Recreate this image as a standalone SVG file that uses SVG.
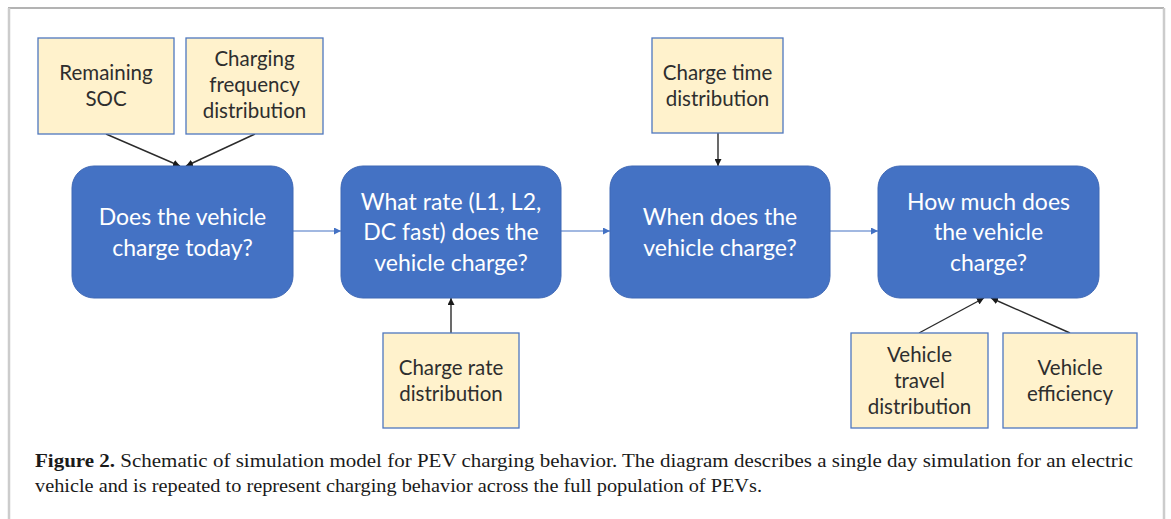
<svg xmlns="http://www.w3.org/2000/svg" width="1171" height="519" viewBox="0 0 1171 519">
  <defs>
    <style>
      .frame-top { stroke: #9a9a9a; stroke-width: 1.5; fill: none; }
      .frame-side { stroke: #cccccc; stroke-width: 2.5; fill: none; }
      .step rect { fill: #4472C4; stroke: #3f68b5; stroke-width: 1; }
      .step text { fill: #ffffff; font-family: Lato, "Open Sans", "Liberation Sans", sans-serif; font-size: 23px; text-anchor: middle; }
      .input rect { fill: #FFF2CC; stroke: #4f77bf; stroke-width: 1.3; }
      .input text { fill: #2e2e2e; font-family: Lato, "Open Sans", "Liberation Sans", sans-serif; font-size: 20.5px; text-anchor: middle; }
      .feed { stroke: #2b2b2b; stroke-width: 1.4; fill: none; marker-end: url(#head-dark); }
      .flow { stroke: #4472C4; stroke-width: 1.2; fill: none; marker-end: url(#head-blue); }
      .caption { font-family: "Liberation Serif", "Times New Roman", serif; font-size: 18.5px; fill: #1a1a1a; }
    </style>
    <marker id="head-dark" viewBox="0 0 10 10" refX="10" refY="5" markerWidth="7" markerHeight="7" markerUnits="userSpaceOnUse" orient="auto">
      <path d="M0,0 L10,5 L0,10 z" fill="#1a1a1a"/>
    </marker>
    <marker id="head-blue" viewBox="0 0 10 10" refX="10" refY="5" markerWidth="7" markerHeight="7" markerUnits="userSpaceOnUse" orient="auto">
      <path d="M0,0 L10,5 L0,10 z" fill="#4472C4"/>
    </marker>
  </defs>

  <rect width="1171" height="519" fill="#ffffff"/>

  <!-- page frame, open at the bottom -->
  <line class="frame-top" x1="8" y1="8" x2="1164" y2="8"/>
  <line class="frame-side" x1="9" y1="8" x2="9" y2="519"/>
  <line class="frame-side" x1="1164" y1="8" x2="1164" y2="519"/>

  <!-- connectors -->
  <g id="connectors">
    <line class="feed" x1="106" y1="134" x2="180" y2="166"/>
    <line class="feed" x1="255" y1="134" x2="186" y2="166"/>
    <line class="feed" x1="718" y1="133" x2="718" y2="166"/>
    <line class="feed" x1="451" y1="333" x2="451" y2="298"/>
    <line class="feed" x1="919" y1="333" x2="984" y2="298"/>
    <line class="feed" x1="1070" y1="333" x2="991" y2="298"/>
    <line class="flow" x1="293" y1="231" x2="341" y2="231"/>
    <line class="flow" x1="561" y1="231" x2="610" y2="231"/>
    <line class="flow" x1="830" y1="231" x2="878" y2="231"/>
  </g>

  <!-- process steps -->
  <g id="step-charge-today" class="step">
    <rect x="72" y="166" width="221" height="132" rx="22"/>
    <text x="182.5" y="225">Does the vehicle</text>
    <text x="182.5" y="256">charge today?</text>
  </g>
  <g id="step-rate" class="step">
    <rect x="341" y="166" width="220" height="132" rx="22"/>
    <text x="451" y="210">What rate (L1, L2,</text>
    <text x="451" y="240">DC fast) does the</text>
    <text x="451" y="271">vehicle charge?</text>
  </g>
  <g id="step-when" class="step">
    <rect x="610" y="166" width="220" height="132" rx="22"/>
    <text x="720" y="225">When does the</text>
    <text x="720" y="256">vehicle charge?</text>
  </g>
  <g id="step-how-much" class="step">
    <rect x="878" y="166" width="221" height="132" rx="22"/>
    <text x="988.5" y="210">How much does</text>
    <text x="988.5" y="240">the vehicle</text>
    <text x="988.5" y="271">charge?</text>
  </g>

  <!-- input distributions -->
  <g id="input-soc" class="input">
    <rect x="38" y="38" width="136" height="96"/>
    <text x="106" y="80">Remaining</text>
    <text x="106" y="106">SOC</text>
  </g>
  <g id="input-frequency" class="input">
    <rect x="186" y="38" width="137" height="96"/>
    <text x="254.5" y="66">Charging</text>
    <text x="254.5" y="92">frequency</text>
    <text x="254.5" y="118">distribution</text>
  </g>
  <g id="input-charge-time" class="input">
    <rect x="652" y="38" width="131" height="95"/>
    <text x="717.5" y="80">Charge time</text>
    <text x="717.5" y="106">distribution</text>
  </g>
  <g id="input-charge-rate" class="input">
    <rect x="383" y="333" width="136" height="95"/>
    <text x="451" y="375">Charge rate</text>
    <text x="451" y="401">distribution</text>
  </g>
  <g id="input-travel" class="input">
    <rect x="851" y="333" width="137" height="95"/>
    <text x="919.5" y="362">Vehicle</text>
    <text x="919.5" y="388">travel</text>
    <text x="919.5" y="414">distribution</text>
  </g>
  <g id="input-efficiency" class="input">
    <rect x="1003" y="333" width="134" height="95"/>
    <text x="1070" y="375">Vehicle</text>
    <text x="1070" y="401">efficiency</text>
  </g>

  <!-- caption -->
  <text class="caption" x="35" y="467" textLength="1098" lengthAdjust="spacingAndGlyphs"><tspan font-weight="bold">Figure 2.</tspan> Schematic of simulation model for PEV charging behavior. The diagram describes a single day simulation for an electric</text>
  <text class="caption" x="35" y="492" textLength="727" lengthAdjust="spacingAndGlyphs">vehicle and is repeated to represent charging behavior across the full population of PEVs.</text>
</svg>
